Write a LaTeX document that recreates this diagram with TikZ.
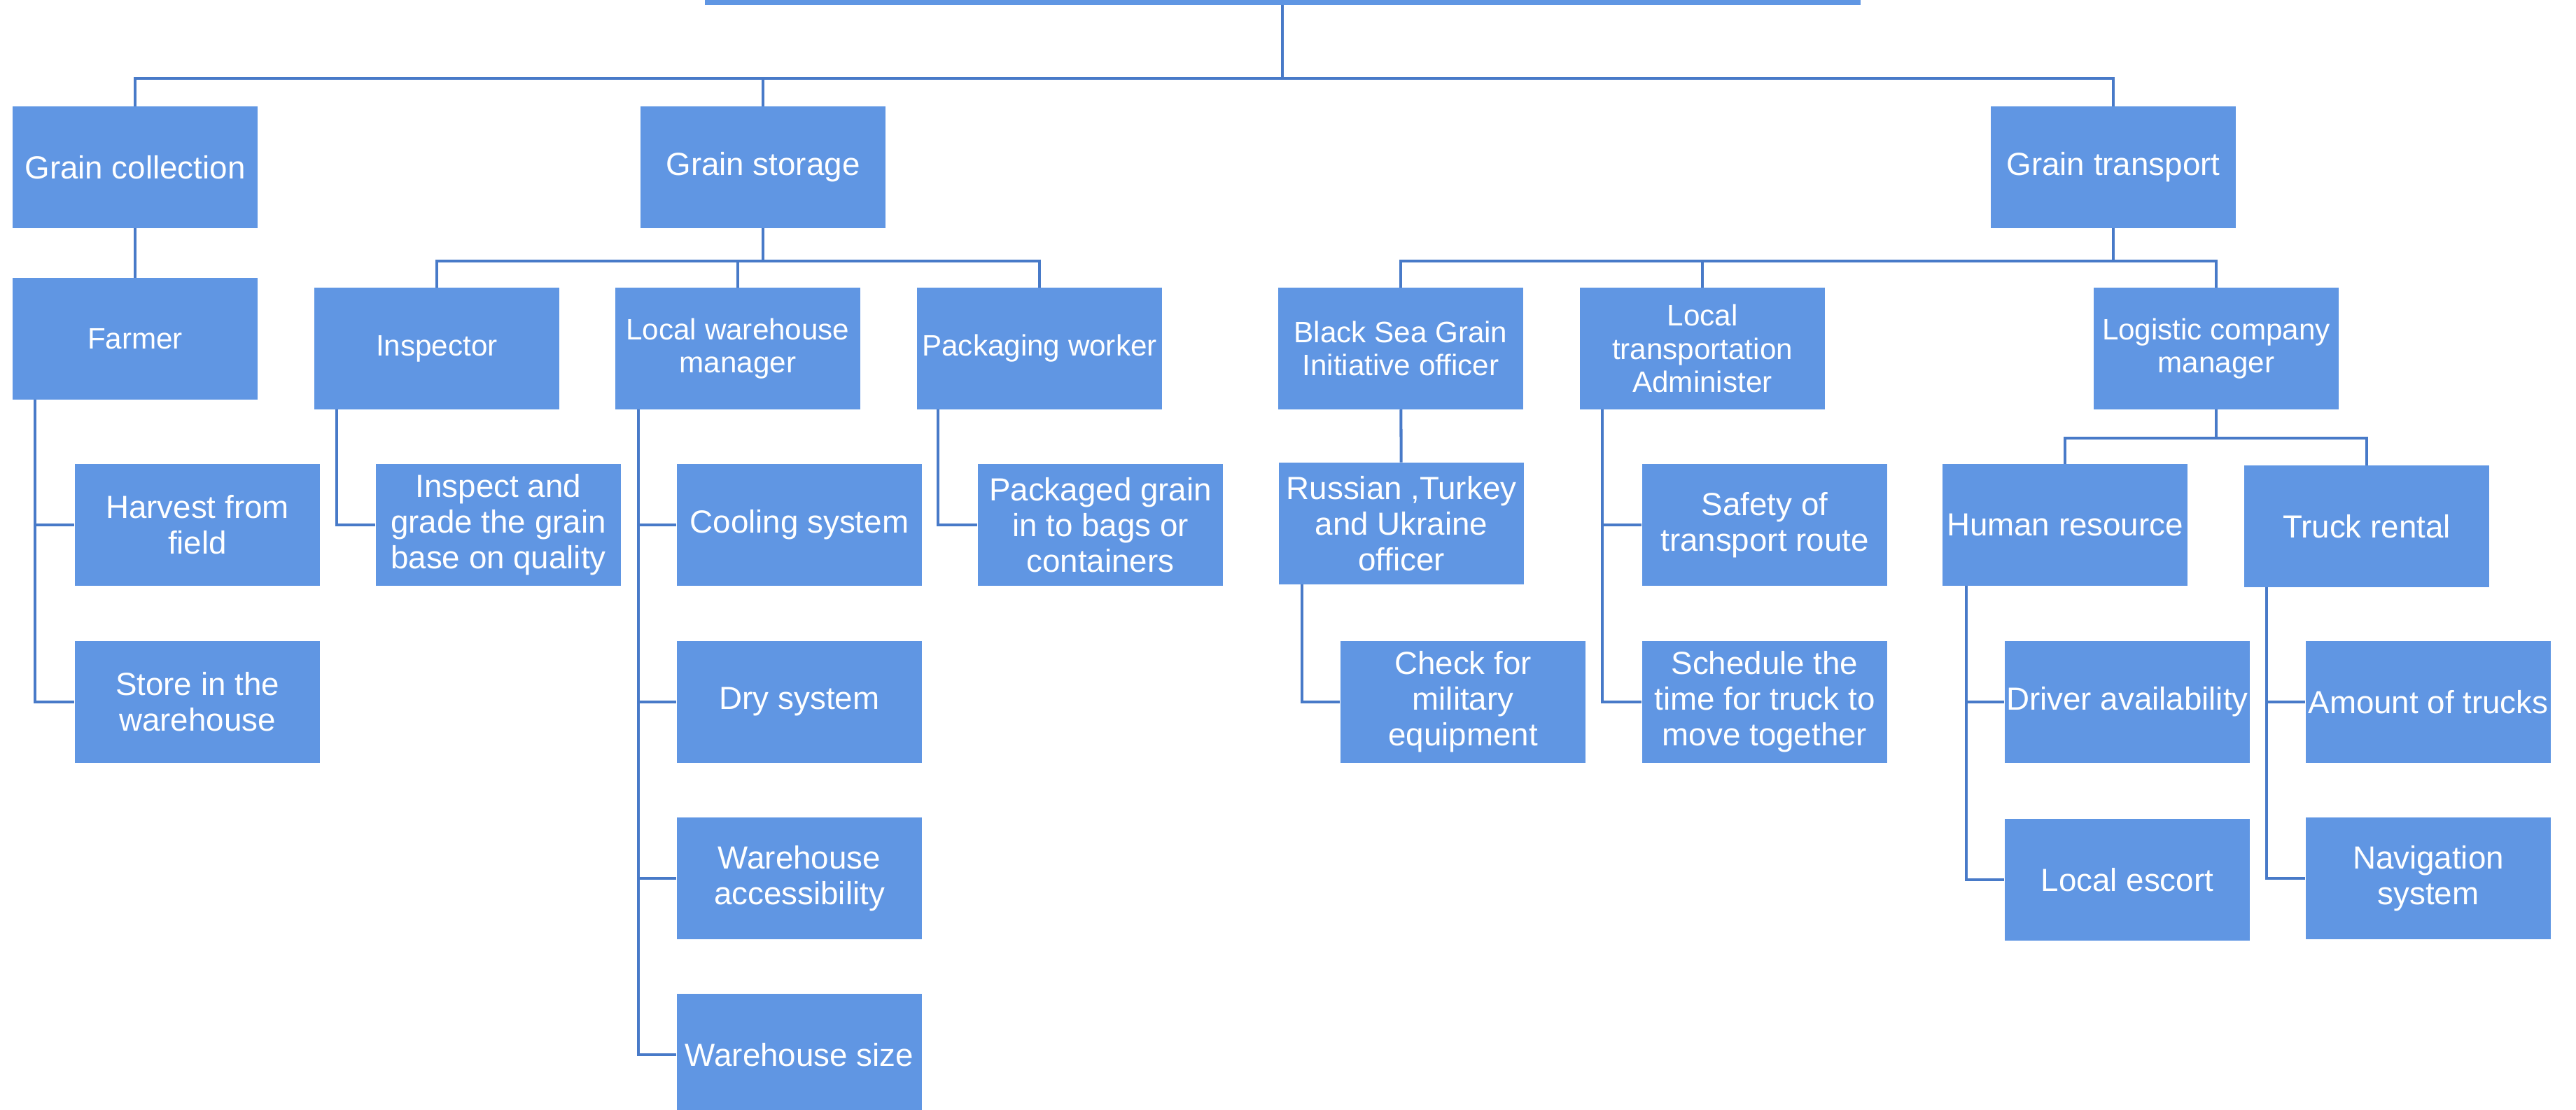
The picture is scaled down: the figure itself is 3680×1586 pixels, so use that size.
\documentclass[tikz,border=0pt]{standalone}
\usepackage{fontspec}
\setmainfont{Liberation Sans}
\usepackage{xcolor}
\usepackage{tikz}
\usetikzlibrary{calc}

\definecolor{boxblue}{RGB}{96,150,227}
\definecolor{lineblue}{RGB}{72,122,200}

\begin{document}
\begin{tikzpicture}[x=0.01cm,y=-0.01cm,
  box/.style={fill=boxblue,text=white,inner sep=0pt,minimum width=3.5cm,minimum height=1.73cm,align=center,font=\fontsize{13}{14.5}\selectfont},
  mid/.style={box,font=\fontsize{12}{13.4}\selectfont},
  link/.style={draw=lineblue,line width=1.15pt}]
 \clip (0,0) rectangle (3680,1586);
 \node[box,minimum width=16.5cm] (root) at (1832,-80) {};
 % first level
 \node[box] (coll)  at (193,239)  {Grain collection};
 \node[box] (stor)  at (1090,239) {Grain storage};
 \node[box] (trans) at (3019,239) {Grain transport};
 % second level
 \node[mid] (farmer) at (193,484)  {Farmer};
 \node[mid] (insp)   at (624,498)  {Inspector};
 \node[mid] (whman)  at (1054,498) {Local warehouse\\manager};
 \node[mid] (pack)   at (1485,498) {Packaging worker};
 \node[mid] (bsgi)   at (2001,498) {Black Sea Grain\\Initiative officer};
 \node[mid] (ltadm)  at (2432,498) {Local\\transportation\\Administer};
 \node[mid] (logman) at (3166,498) {Logistic company\\manager};
 % third level
 \node[box] (harvest) at (282,750)   {Harvest from\\field};
 \node[box] (store)   at (282,1003)  {Store in the\\warehouse};
 \node[box] (grade)   at (712,750)   {Inspect and\\grade the grain\\base on quality};
 \node[box] (cool)    at (1142,750)  {Cooling system};
 \node[box] (dry)     at (1142,1003) {Dry system};
 \node[box] (access)  at (1142,1255) {Warehouse\\accessibility};
 \node[box] (size)    at (1142,1507) {Warehouse size};
 \node[box] (bags)    at (1572,750)  {Packaged grain\\in to bags or\\containers};
 \node[box] (officer) at (2002,748)  {Russian ,Turkey\\and Ukraine\\officer};
 \node[box] (milit)   at (2090,1003) {Check for\\military\\equipment};
 \node[box] (route)   at (2521,750)  {Safety of\\transport route};
 \node[box] (sched)   at (2521,1003) {Schedule the\\time for truck to\\move together};
 \node[box] (human)   at (2950,750)  {Human resource};
 \node[box] (truck)   at (3381,752)  {Truck rental};
 \node[box] (driver)  at (3039,1003) {Driver availability};
 \node[box] (escort)  at (3039,1257) {Local escort};
 \node[box] (amount)  at (3469,1003) {Amount of trucks};
 \node[box] (navi)    at (3469,1255) {Navigation\\system};
 % bars
 \coordinate (b0) at (1832,112);
 \coordinate (b1) at (1090,373);
 \coordinate (b2) at (3019,373);
 \coordinate (b3) at (3166,626);
 \draw[link] (root.south) -- (b0) -| (coll.north);
 \draw[link] (b0) -| (stor.north);
 \draw[link] (b0) -| (trans.north);
 \draw[link] (coll) -- (farmer);
 \draw[link] (stor.south) -- (b1) -| (insp.north);
 \draw[link] (b1) -| (whman.north);
 \draw[link] (b1) -| (pack.north);
 \draw[link] (trans.south) -- (b2) -| (bsgi.north);
 \draw[link] (b2) -| (ltadm.north);
 \draw[link] (b2) -| (logman.north);
 \draw[link] (bsgi) -- (officer);
 \draw[link] (logman.south) -- (b3) -| (human.north);
 \draw[link] (b3) -| (truck.north);
 % side branches
 \draw[link] ([xshift=0.33cm]farmer.south west) |- (harvest.west);
 \draw[link] ([xshift=0.33cm]farmer.south west) |- (store.west);
 \draw[link] ([xshift=0.33cm]insp.south west) |- (grade.west);
 \draw[link] ([xshift=0.34cm]whman.south west) |- (cool.west);
 \draw[link] ([xshift=0.34cm]whman.south west) |- (dry.west);
 \draw[link] ([xshift=0.34cm]whman.south west) |- (access.west);
 \draw[link] ([xshift=0.34cm]whman.south west) |- (size.west);
 \draw[link] ([xshift=0.31cm]pack.south west) |- (bags.west);
 \draw[link] ([xshift=0.34cm]officer.south west) |- (milit.west);
 \draw[link] ([xshift=0.33cm]ltadm.south west) |- (route.west);
 \draw[link] ([xshift=0.33cm]ltadm.south west) |- (sched.west);
 \draw[link] ([xshift=0.35cm]human.south west) |- (driver.west);
 \draw[link] ([xshift=0.35cm]human.south west) |- (escort.west);
 \draw[link] ([xshift=0.33cm]truck.south west) |- (amount.west);
 \draw[link] ([xshift=0.33cm]truck.south west) |- (navi.west);
\end{tikzpicture}
\end{document}
